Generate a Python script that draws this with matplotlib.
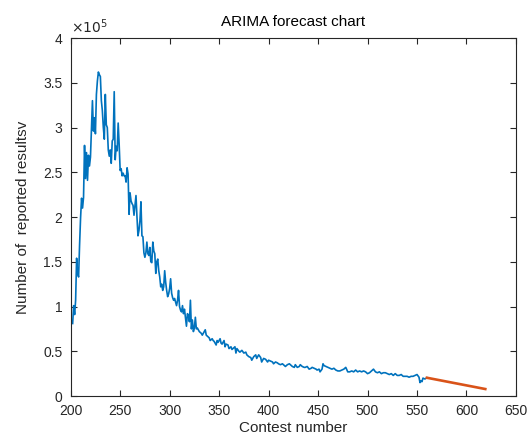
import matplotlib
matplotlib.use("Agg")
import matplotlib.pyplot as plt
from matplotlib.ticker import FuncFormatter, MultipleLocator

plt.rcParams['font.family'] = ['Liberation Sans', 'DejaVu Sans']

# Observed series (contest number, reported results)
contest = [202, 203, 204, 205, 206, 207, 208, 209, 210, 211, 212, 213, 214, 215, 216, 217, 218, 219, 220,
           221, 222, 223, 224, 225, 226, 227, 228, 229, 230, 231, 232, 233, 234, 235, 236, 237, 238, 239, 240,
           241, 242, 243, 244, 245, 246, 247, 248, 249, 250, 251, 252, 253, 254, 255, 256, 257, 258, 259, 260,
           261, 262, 263, 264, 265, 266, 267, 268, 269, 270, 271, 272, 273, 274, 275, 276, 277, 278, 279, 280,
           281, 282, 283, 284, 285, 286, 287, 288, 289, 290, 291, 292, 293, 294, 295, 296, 297, 298, 299, 300,
           301, 302, 303, 304, 305, 306, 307, 308, 309, 310, 311, 312, 313, 314, 315, 316, 317, 318, 319, 320,
           321, 322, 323, 324, 325, 326, 327, 328, 329, 330, 332, 333, 335, 336, 337, 339, 340, 341, 343, 344,
           345, 347, 348, 349, 351, 352, 353, 355, 356, 357, 359, 360, 362, 363, 364, 366, 367, 368, 370, 371,
           373, 375, 377, 378, 380, 382, 383, 385, 387, 388, 390, 392, 393, 395, 397, 399, 400, 402, 404, 405,
           407, 409, 410, 412, 414, 415, 417, 419, 421, 422, 424, 426, 427, 429, 431, 432, 434, 436, 437, 439,
           441, 443, 444, 446, 448, 449, 451, 452, 454, 455, 456, 458, 460, 462, 464, 466, 468, 470, 472, 474,
           476, 478, 480, 482, 484, 486, 488, 490, 492, 494, 496, 498, 500, 502, 504, 506, 508, 510, 512, 514,
           516, 518, 520, 522, 524, 526, 528, 530, 532, 534, 536, 538, 540, 542, 544, 546, 548, 550, 552, 553,
           554, 555, 556, 558, 560]
reported = [81000, 101000, 91000, 107000, 154000, 137000, 133000, 169000, 199000, 221000, 210000, 222000,
            280000, 243000, 272000, 241000, 269000, 257000, 267000, 300000, 330000, 296000, 311000, 293000,
            337000, 352000, 362000, 359000, 357000, 330000, 319000, 300000, 287000, 337000, 303000, 300000,
            275000, 268000, 275000, 260000, 285000, 287000, 340000, 264000, 279000, 274000, 305000, 281000,
            252000, 254000, 246000, 249000, 246000, 246000, 239000, 255000, 248000, 203000, 227000, 218000,
            215000, 213000, 202000, 213000, 224000, 200000, 179000, 185000, 196000, 217000, 179000, 178000,
            160000, 155000, 160000, 172000, 159000, 157000, 166000, 150000, 149000, 172000, 162000, 159000,
            137000, 150000, 153000, 140000, 133000, 122000, 125000, 118000, 122000, 140000, 127000, 118000,
            111000, 114000, 120000, 131000, 115000, 110000, 107000, 109000, 105000, 101000, 107000, 118000,
            100000, 96000, 94000, 101000, 92000, 97000, 88000, 78000, 92000, 90000, 83000, 107000, 75000,
            85000, 72000, 76000, 88000, 75000, 76000, 74000, 72000, 70000, 68000, 72000, 74000, 68000, 66000,
            65000, 62000, 64000, 62000, 61000, 57000, 62000, 60000, 64000, 59000, 58000, 62000, 55000, 58000,
            57000, 53000, 55000, 52000, 53000, 55000, 48000, 53000, 50000, 49000, 51000, 48000, 49000, 46000,
            44000, 43000, 40000, 44000, 46000, 42000, 46000, 43000, 38000, 42000, 41000, 38000, 40000, 39000,
            38000, 36000, 38000, 37000, 36000, 35000, 36000, 35000, 33000, 35000, 36000, 35000, 33000, 32000,
            35000, 32000, 33000, 35000, 33000, 32000, 32000, 33000, 30000, 31000, 32000, 31000, 30000, 29000,
            30000, 27000, 30000, 36000, 34000, 33000, 32000, 31000, 30000, 31000, 29000, 28000, 28000, 29000,
            30000, 32000, 27000, 27000, 28000, 27000, 29000, 27000, 28000, 27000, 28000, 27000, 25000, 26000,
            28000, 30000, 27000, 26000, 27000, 25000, 26000, 26000, 25000, 24000, 25000, 23000, 25000, 23000,
            23000, 24000, 22000, 22000, 22000, 21000, 22000, 22000, 23000, 24000, 21000, 15000, 17000, 16000,
            20000, 19000, 20400]

# ARIMA forecast
forecast_contest = [560, 619]
forecast_value = [20400, 7800]

fig = plt.figure(figsize=(5.31, 4.37), dpi=100)
ax = fig.add_axes([0.1331, 0.0938, 0.8386, 0.8192])

ax.plot(contest, reported, color='#0072BD', lw=1.2)
ax.plot(forecast_contest, forecast_value, color='#D95319', lw=1.9)

ax.set_xlim(200, 650)
ax.set_ylim(0, 400000)
ax.xaxis.set_major_locator(MultipleLocator(50))
ax.yaxis.set_major_locator(MultipleLocator(50000))
ax.yaxis.set_major_formatter(FuncFormatter(lambda v, p: f"{v/1e5:g}"))

dark = '#262626'
for s in ax.spines.values():
    s.set_color(dark)
    s.set_linewidth(0.8)
ax.tick_params(direction='in', top=True, right=True, length=4.5, width=0.8,
               colors=dark, labelsize=10, labelcolor=dark)
ax.tick_params(axis='x', pad=6)
ax.tick_params(axis='y', pad=6)

ax.text(0.0, 1.005, r'$\times10^{5}$', transform=ax.transAxes, fontsize=10,
        color=dark, ha='left', va='bottom')
ax.set_title('ARIMA forecast chart', fontsize=11, color='black', pad=9)
ax.set_xlabel('Contest number', fontsize=11, color=dark, labelpad=2)
ax.set_ylabel('Number of  reported resultsv', fontsize=11, color=dark, labelpad=9)

fig.savefig('out.png', dpi=100)
